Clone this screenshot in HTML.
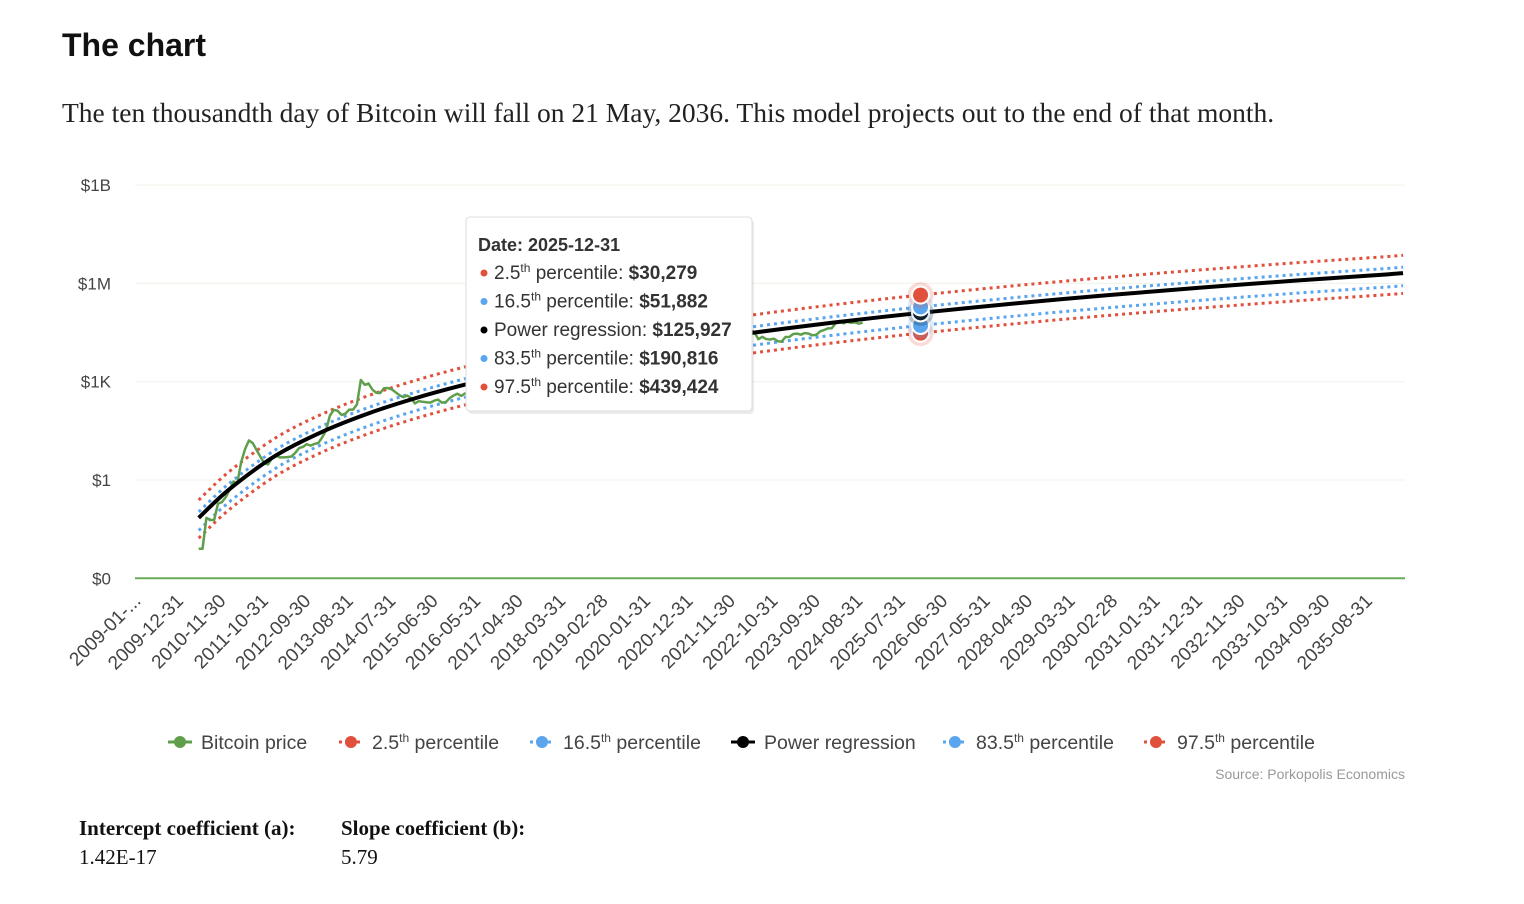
<!DOCTYPE html>
<html><head><meta charset="utf-8">
<style>
body{margin:0;background:#fff;width:1524px;height:904px;overflow:hidden;font-family:"Liberation Sans",sans-serif;}
.title{position:absolute;left:62px;top:27px;font-size:32px;font-weight:bold;color:#111;}
.sub{position:absolute;left:62px;top:97px;font-family:"Liberation Serif",serif;font-size:27.5px;color:#222;}
.coef{position:absolute;top:816px;font-family:"Liberation Serif",serif;font-size:21px;color:#111;}
.coef b{display:block;margin-bottom:4px;}
svg{position:absolute;left:0;top:0;}
</style></head><body>
<div class="title">The chart</div>
<div class="sub">The ten thousandth day of Bitcoin will fall on 21 May, 2036. This model projects out to the end of that month.</div>
<svg id="chart" width="1524" height="904"></svg>
<div class="coef" style="left:79px"><b>Intercept coefficient (a):</b>1.42E-17</div>
<div class="coef" style="left:341px"><b>Slope coefficient (b):</b>5.79</div>
<script>
// month categories 2009-01 .. 2036-05
const startYear = 2009;
const monthCount = 329;
const labelEvery = 11;
const yTickValues = [0.001, 1, 1000, 1e6, 1e9];
const yTickLabels = ["$0", "$1", "$1K", "$1M", "$1B"];
// Bitcoin monthly price from 2010-05 (index 16)
const priceStartIndex = 16;
const bitcoinPrice = [0.008,0.008,0.07,0.06,0.06,0.19,0.21,0.30,
0.5,0.9,0.8,3.5,8.7,16.1,13.4,8.2,5.1,3.2,3.0,4.7,
5.5,4.9,4.9,5.0,5.2,6.7,9.4,10.2,12.4,11.2,12.6,13.5,
20,33,93,139,129,97,106,141,141,203,1130,805,
880,573,458,447,630,640,586,478,387,338,378,320,
217,254,244,236,230,263,284,230,236,314,377,430,
368,437,416,448,531,673,624,575,609,700,742,964,
970,1190,1080,1350,2300,2480,2875,4700,4340,6470,10200,13800,
10200,10300,6900,9200,7500,6400,7700,7000,6600,6300,4000,3700,
3450,3800,4100,5300,8600,10800,10100,9600,8300,9200,7550,7200,
9350,8600,6400,8650,9450,9150,11350,11650,10800,13800,19700,29000,
33100,45200,58900,57700,37300,35000,41500,47100,43800,61300,57000,46300,
38500,43200,45500,37700,31800,19800,23300,20000,19400,20500,17200,16500,
23100,23100,28500,29300,27200,30500,29200,26000,27000,34500,37700,42300,
42600,61200,71300,60600,67500,62700,64600,59000,63300];
// Power regression values at sample months
const regIndex = [16,24,36,48,60,72,84,96,108,120,132,144,156,168,180,192,204,216,228,240,252,264,276,288,300,312,324,328];
const regValue = [0.07,0.53,5.6,29.6,108,310,759,1648,3260,6000,10400,17260,27400,42100,62800,91400,129700,180300,247000,333000,441000,577000,746000,955000,1210000,1517000,1888000,2061000];
const bandNames = ["2.5th","16.5th","83.5th","97.5th"];
const bandFactor = [0.2404,0.412,1.515,3.49];
const bandColor = ["#e0503c","#5aa5ee","#5aa5ee","#e0503c"];
const hoverIndex = 203;

const NS="http://www.w3.org/2000/svg";
const svg=document.getElementById('chart');
const X0=135,X1=1405,bw=(X1-X0)/monthCount;
const xs=i=>X0+(i+0.5)*bw;
const ys=v=>480-Math.log10(v)*32.77;
function el(tag,attrs,parent){const e=document.createElementNS(NS,tag);for(const k in attrs)e.setAttribute(k,attrs[k]);(parent||svg).appendChild(e);return e;}
function monthLabel(i){const y=startYear+Math.floor(i/12),m=i%12;const d=new Date(Date.UTC(y,m+1,0)).getUTCDate();return y+'-'+String(m+1).padStart(2,'0')+'-'+String(d).padStart(2,'0');}

// grid
yTickValues.forEach((v,k)=>{
  const g=el('line',{x1:X0,x2:X1,y1:ys(v),y2:ys(v),stroke:k==0?'#6aaa58':'#eef3e8','stroke-width':k==0?2:1});
  
  
  const t=el('text',{x:111,y:ys(v)+6,'text-anchor':'end','font-size':17,fill:'#444'});
  t.textContent=yTickLabels[k];
  
  
});
// x labels
for(let i=0;i<monthCount;i+=labelEvery){
  const x=xs(i);
  const t=el('text',{x:x+5,y:602,'text-anchor':'end','font-size':19,fill:'#444',transform:`rotate(-45 ${x+5} 602)`});
  t.textContent=i==0?'2009-01-...':monthLabel(i);
  
  
}
// smooth path
function smooth(pts){let d=`M${pts[0][0]},${pts[0][1]}`;for(let i=0;i<pts.length-1;i++){const p0=pts[i-1]||pts[i],p1=pts[i],p2=pts[i+1],p3=pts[i+2]||p2;
 d+=` C${p1[0]+(p2[0]-p0[0])/6},${p1[1]+(p2[1]-p0[1])/6} ${p2[0]-(p3[0]-p1[0])/6},${p2[1]-(p3[1]-p1[1])/6} ${p2[0]},${p2[1]}`;}return d;}
// bands
bandFactor.forEach((f,k)=>{
  const pts=regIndex.map((i,j)=>[xs(i),ys(regValue[j]*f)]);
  const p=el('path',{d:smooth(pts),fill:'none',stroke:bandColor[k],'stroke-width':3,'stroke-dasharray':'3 4'});
  
  
});
// bitcoin price
const bp=el('path',{d:bitcoinPrice.map((v,j)=>(j?'L':'M')+xs(priceStartIndex+j)+','+ys(v)).join(' '),fill:'none',stroke:'#5f9f4c','stroke-width':2.5,'stroke-linejoin':'round'});


// regression
const rp=el('path',{d:smooth(regIndex.map((i,j)=>[xs(i),ys(regValue[j])])),fill:'none',stroke:'#000','stroke-width':4});


// hover dots
function regAt(i){for(let j=0;j<regIndex.length-1;j++){if(i>=regIndex[j]&&i<=regIndex[j+1]){const t=(i-regIndex[j])/(regIndex[j+1]-regIndex[j]);return Math.pow(10,Math.log10(regValue[j])*(1-t)+Math.log10(regValue[j+1])*t);}}return regValue[regValue.length-1];}
const hv=regAt(hoverIndex);
const hx=xs(hoverIndex);
[[bandFactor[0],bandColor[0]],[bandFactor[1],bandColor[1]],[1,'#000'],[bandFactor[2],bandColor[2]],[bandFactor[3],bandColor[3]]].forEach(([f,c])=>{
  el('circle',{cx:hx,cy:ys(hv*f),r:13,fill:c,opacity:0.2});
  const d=el('circle',{cx:hx,cy:ys(hv*f),r:8.5,fill:c,stroke:'#fff','stroke-width':2});
  
  
});
// tooltip
const tg=el('g',{});


el('rect',{x:468,y:220,width:286,height:194,rx:4,fill:'#000',opacity:0.08},tg);
el('rect',{x:466,y:217,width:286,height:194,rx:4,fill:'#fff',stroke:'#ddd'},tg);
const tt=el('text',{x:478,y:251,'font-size':18,'font-weight':'bold',fill:'#333'},tg);tt.textContent='Date: 2025-12-31';
const rows=[['#e0503c','2.5','th',' percentile: ','$30,279'],['#5aa5ee','16.5','th',' percentile: ','$51,882'],['#000','Power regression: ','','','$125,927'],['#5aa5ee','83.5','th',' percentile: ','$190,816'],['#e0503c','97.5','th',' percentile: ','$439,424']];
rows.forEach((r,k)=>{const y=279+k*28.5;el('circle',{cx:484,cy:y-6,r:3.5,fill:r[0]},tg);
 const t=el('text',{x:494,y:y,'font-size':19,fill:'#333'},tg);
 t.innerHTML=`${r[1]}${r[2]?`<tspan font-size="12" dy="-7">${r[2]}</tspan><tspan dy="7">${r[3]}</tspan>`:''}<tspan font-weight="bold">${r[4]}</tspan>`;});
// legend
const legend=[['Bitcoin price','#5f9f4c',false,''],['2.5','#e0503c',true,'th'],['16.5','#5aa5ee',true,'th'],['Power regression','#000',false,''],['83.5','#5aa5ee',true,'th'],['97.5','#e0503c',true,'th']];
const lx=[168,339,530,731,943,1144];
legend.forEach((l,k)=>{const g=el('g',{});
 
 
 el('line',{x1:lx[k],x2:lx[k]+24,y1:742,y2:742,stroke:l[1],'stroke-width':3,'stroke-dasharray':l[2]?'3 3':''},g);
 el('circle',{cx:lx[k]+12,cy:742,r:6,fill:l[1]},g);
 const t=el('text',{x:lx[k]+33,y:749,'font-size':19.5,fill:'#444'},g);
 t.innerHTML=l[3]?`${l[0]}<tspan font-size="12" dy="-7">${l[3]}</tspan><tspan dy="7"> percentile</tspan>`:l[0];});
const s=el('text',{x:1405,y:779,'text-anchor':'end','font-size':14,fill:'#999'});s.textContent='Source: Porkopolis Economics';


</script>
</body></html>
